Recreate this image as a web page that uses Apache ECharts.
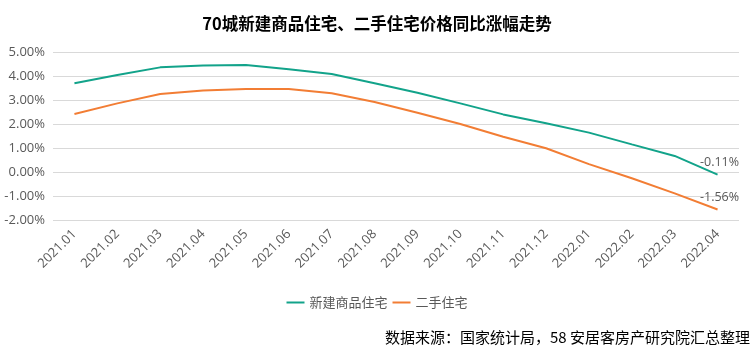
<!DOCTYPE html>
<html><head><meta charset="utf-8">
<script src="https://cdn.jsdelivr.net/npm/echarts@6/dist/echarts.min.js"></script>
<style>html,body{margin:0;padding:0;background:#fff}#c{width:754px;height:355px}</style>
</head><body><div id="c"></div>
<script>
const categories = ['2021.01','2021.02','2021.03','2021.04','2021.05','2021.06','2021.07','2021.08','2021.09','2021.10','2021.11','2021.12','2022.01','2022.02','2022.03','2022.04'];
const newHome = [3.70, 4.04, 4.36, 4.44, 4.46, 4.28, 4.08, 3.70, 3.30, 2.86, 2.40, 2.03, 1.64, 1.15, 0.67, -0.11];
const secondHand = [2.42, 2.86, 3.25, 3.40, 3.46, 3.46, 3.28, 2.92, 2.47, 2.00, 1.47, 0.99, 0.33, -0.26, -0.89, -1.56];
const seriesNames = ['新建商品住宅', '二手住宅'];
const yTicks = {min: -2, max: 5, interval: 1};

const chart = echarts.init(document.getElementById('c'));
const lastLabel = {
  show: true, position: 'top', distance: 6, color: '#595959', fontSize: 12.5,
  fontFamily: 'Open Sans', offset: [2, 0],
  formatter: p => p.dataIndex === categories.length - 1 ? p.value.toFixed(2) + '%' : ''
};
chart.setOption({
  animation: false,
  title: {text: '70城新建商品住宅、二手住宅价格同比涨幅走势', left: 'center', top: 10,
    textStyle: {fontSize: 16.5, fontWeight: 'bold', color: '#000', fontFamily: 'Noto Sans CJK SC'}},
  grid: {left: 53, right: 15, top: 52, bottom: 135},
  legend: {data: seriesNames, left: 'center', top: 291, itemWidth: 18, itemHeight: 2, itemGap: 5,
    icon: 'rect',
    textStyle: {color: '#595959', fontSize: 13, fontFamily: 'Noto Sans CJK SC'}},
  graphic: [{type: 'text', right: 4, top: 330,
    style: {text: '数据来源：国家统计局，58 安居客房产研究院汇总整理', fill: '#000', fontSize: 15,
      fontFamily: 'Noto Sans CJK SC'}}],
  xAxis: {type: 'category', data: categories, boundaryGap: true,
    axisLine: {show: false}, axisTick: {show: false},
    axisLabel: {rotate: 45, color: '#595959', fontSize: 13, margin: 12, fontFamily: 'Open Sans', interval: 0}},
  yAxis: {type: 'value', min: yTicks.min, max: yTicks.max, interval: yTicks.interval,
    axisLabel: {color: '#595959', fontSize: 13, margin: 8, fontFamily: 'Open Sans',
      formatter: v => v.toFixed(2) + '%'},
    splitLine: {lineStyle: {color: '#D9D9D9', width: 1}}},
  series: [
    {name: seriesNames[0], type: 'line', data: newHome, symbol: 'circle', symbolSize: 0, showSymbol: true,
     lineStyle: {color: '#12A38A', width: 2}, itemStyle: {color: '#12A38A'}, label: lastLabel},
    {name: seriesNames[1], type: 'line', data: secondHand, symbol: 'circle', symbolSize: 0, showSymbol: true,
     lineStyle: {color: '#F27D34', width: 2}, itemStyle: {color: '#F27D34'}, label: lastLabel}
  ]
});
</script></body></html>
